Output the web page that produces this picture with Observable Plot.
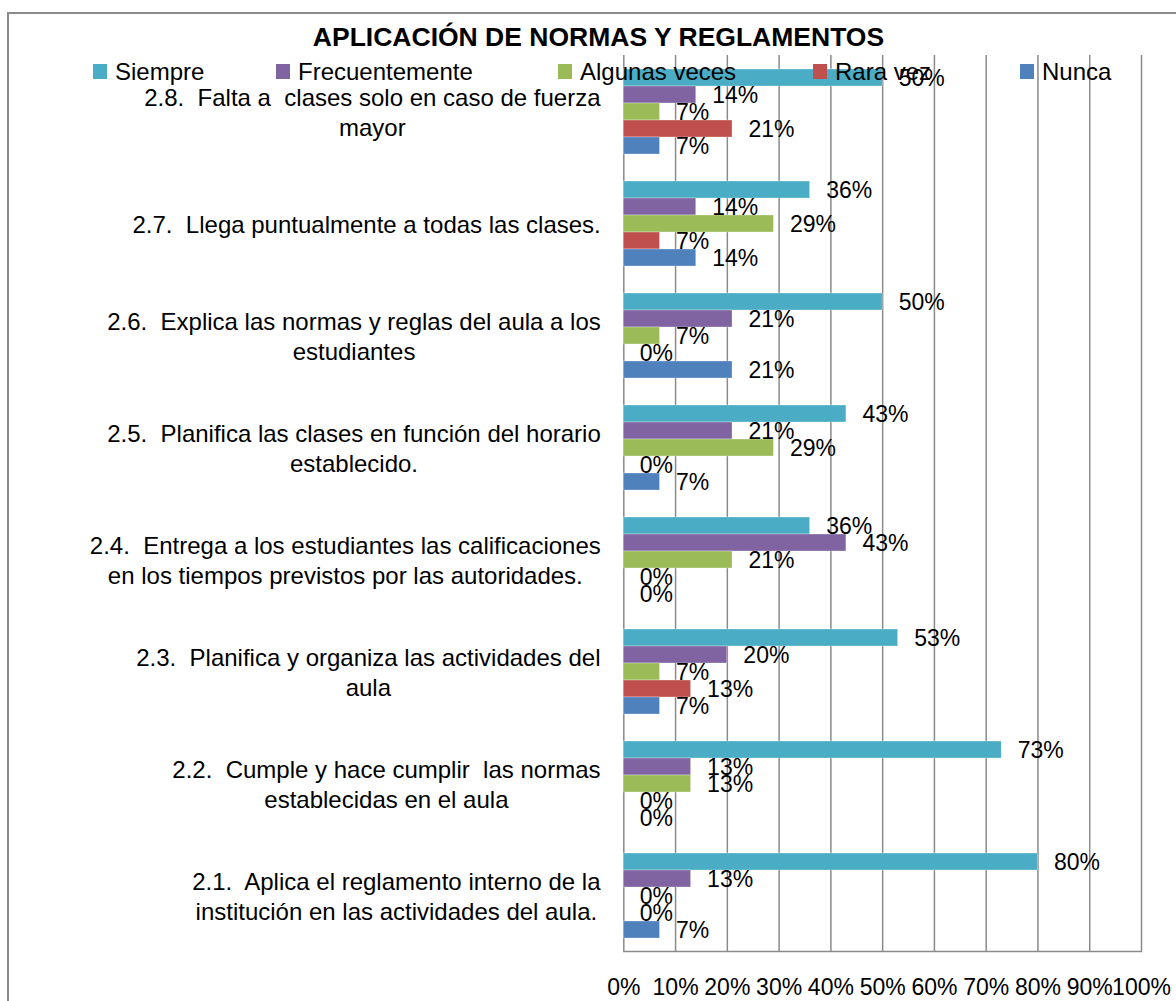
<!DOCTYPE html>
<html>
<head>
<meta charset="utf-8">
<script src="https://cdn.jsdelivr.net/npm/d3@7"></script>
<script src="https://cdn.jsdelivr.net/npm/@observablehq/plot@0.6"></script>
<style>
  html, body { margin: 0; padding: 0; background: #fff; overflow: hidden; }
  #wrap { position: relative; width: 1176px; height: 1001px; font-family: "Liberation Sans", Arial, sans-serif; color: #000; }
  #border { position: absolute; left: 7px; top: 12px; width: 1300px; height: 1200px; border: 2px solid #8a8a8a; box-sizing: border-box; z-index: 0; }
  #chart { position: absolute; left: 0; top: 0; z-index: 1; }
  #title { position: absolute; left: 0; width: 1197px; top: 22px; text-align: center; font-weight: bold; font-size: 26.5px; line-height: 30px; white-space: nowrap; z-index: 2; }
  .lg { position: absolute; top: 60px; font-size: 24px; line-height: 24px; white-space: nowrap; z-index: 2; }
  .sw { position: absolute; top: 64px; width: 14px; height: 15px; z-index: 2; }
  svg text { white-space: pre; }
</style>
</head>
<body>
<div id="wrap">
  <div id="border"></div>
  <div id="chart"></div>
  <div id="title"></div>
</div>
<script>
// ---- data ----
const chartTitle = "APLICACIÓN DE NORMAS Y REGLAMENTOS";
const categories = [
  "2.8.  Falta a  clases solo en caso de fuerza\nmayor",
  "2.7.  Llega puntualmente a todas las clases.",
  "2.6.  Explica las normas y reglas del aula a los\nestudiantes",
  "2.5.  Planifica las clases en función del horario\nestablecido.",
  "2.4.  Entrega a los estudiantes las calificaciones\nen los tiempos previstos por las autoridades.",
  "2.3.  Planifica y organiza las actividades del\naula",
  "2.2.  Cumple y hace cumplir  las normas\nestablecidas en el aula",
  "2.1.  Aplica el reglamento interno de la\ninstitución en las actividades del aula."
];
const series = ["Siempre", "Frecuentemente", "Algunas veces", "Rara vez", "Nunca"];
const siempre        = [50, 36, 50, 43, 36, 53, 73, 80];
const frecuentemente = [14, 14, 21, 21, 43, 20, 13, 13];
const algunasVeces   = [7, 29, 7, 29, 21, 7, 13, 0];
const raraVez        = [21, 7, 0, 0, 0, 13, 0, 0];
const nunca          = [7, 14, 21, 7, 0, 7, 0, 7];
const xTicks = [0, 10, 20, 30, 40, 50, 60, 70, 80, 90, 100];

// ---- styles ----
const colors = ["#4BACC6", "#8064A2", "#9BBB59", "#C0504D", "#4F81BD"];
const legendTextLeft = [115, 298, 580, 835, 1042];
const FONT = "Liberation Sans, Arial, sans-serif";

const seriesValues = [siempre, frecuentemente, algunasVeces, raraVez, nunca];
const table = [];
categories.forEach((cat, i) => {
  series.forEach((s, j) => table.push({cat, serie: s, value: seriesValues[j][i]}));
});

const chart = Plot.plot({
  width: 1176,
  height: 1001,
  marginLeft: 623.3,
  marginRight: 35,
  marginTop: 54,
  marginBottom: 48.3,
  style: {fontFamily: FONT, fontSize: "23px", color: "#000", background: "transparent", overflow: "visible"},
  x: {domain: [0, 100], axis: null},
  y: {domain: series, paddingInner: 0, paddingOuter: 0.784, axis: null},
  fy: {domain: categories, padding: 0, axis: null},
  color: {domain: series, range: colors},
  marks: [
    Plot.ruleX(xTicks, {stroke: "#8a8a8a", strokeWidth: 1.5}),
    Plot.frame({anchor: "bottom", facetAnchor: "bottom", stroke: "#8a8a8a", strokeWidth: 1.5}),
    Plot.barX(table, {x: "value", y: "serie", fy: "cat", fill: "serie", stroke: "#ffffff", strokeOpacity: 0.5, strokeWidth: 0.6}),
    Plot.text(table, {x: "value", y: "serie", fy: "cat", text: d => d.value + "%", textAnchor: "start", dx: 16, dy: 1, fill: "#000", fontSize: 23}),
    Plot.axisX(xTicks, {anchor: "bottom", facetAnchor: "bottom", tickSize: 0, tickPadding: 27, tickFormat: d => d + "%", fontSize: 23, fill: "#000", label: null}),
    Plot.text(categories, {fy: d => d, frameAnchor: "left", text: d => d, textAnchor: "end", dx: -23, lineHeight: 30 / 24, fontSize: 24, fill: "#000"})
  ]
});

document.getElementById("chart").appendChild(chart);
document.getElementById("title").textContent = chartTitle;

// centre the lines of each category label inside its right-aligned block
const textGroups = chart.querySelectorAll('g[aria-label="text"]');
const catGroup = textGroups[textGroups.length - 1];
catGroup.querySelectorAll("text").forEach(t => {
  const w = t.getBBox().width;
  t.setAttribute("text-anchor", "middle");
  const tr = t.getAttribute("transform") || "";
  t.setAttribute("transform", tr + ` translate(${-w / 2},0)`);
});

// legend
const wrap = document.getElementById("wrap");
series.forEach((s, j) => {
  const sw = document.createElement("div");
  sw.className = "sw";
  sw.style.left = (legendTextLeft[j] - 22) + "px";
  sw.style.background = colors[j];
  wrap.appendChild(sw);
  const lab = document.createElement("div");
  lab.className = "lg";
  lab.style.left = legendTextLeft[j] + "px";
  lab.textContent = s;
  wrap.appendChild(lab);
});
</script>
</body>
</html>
